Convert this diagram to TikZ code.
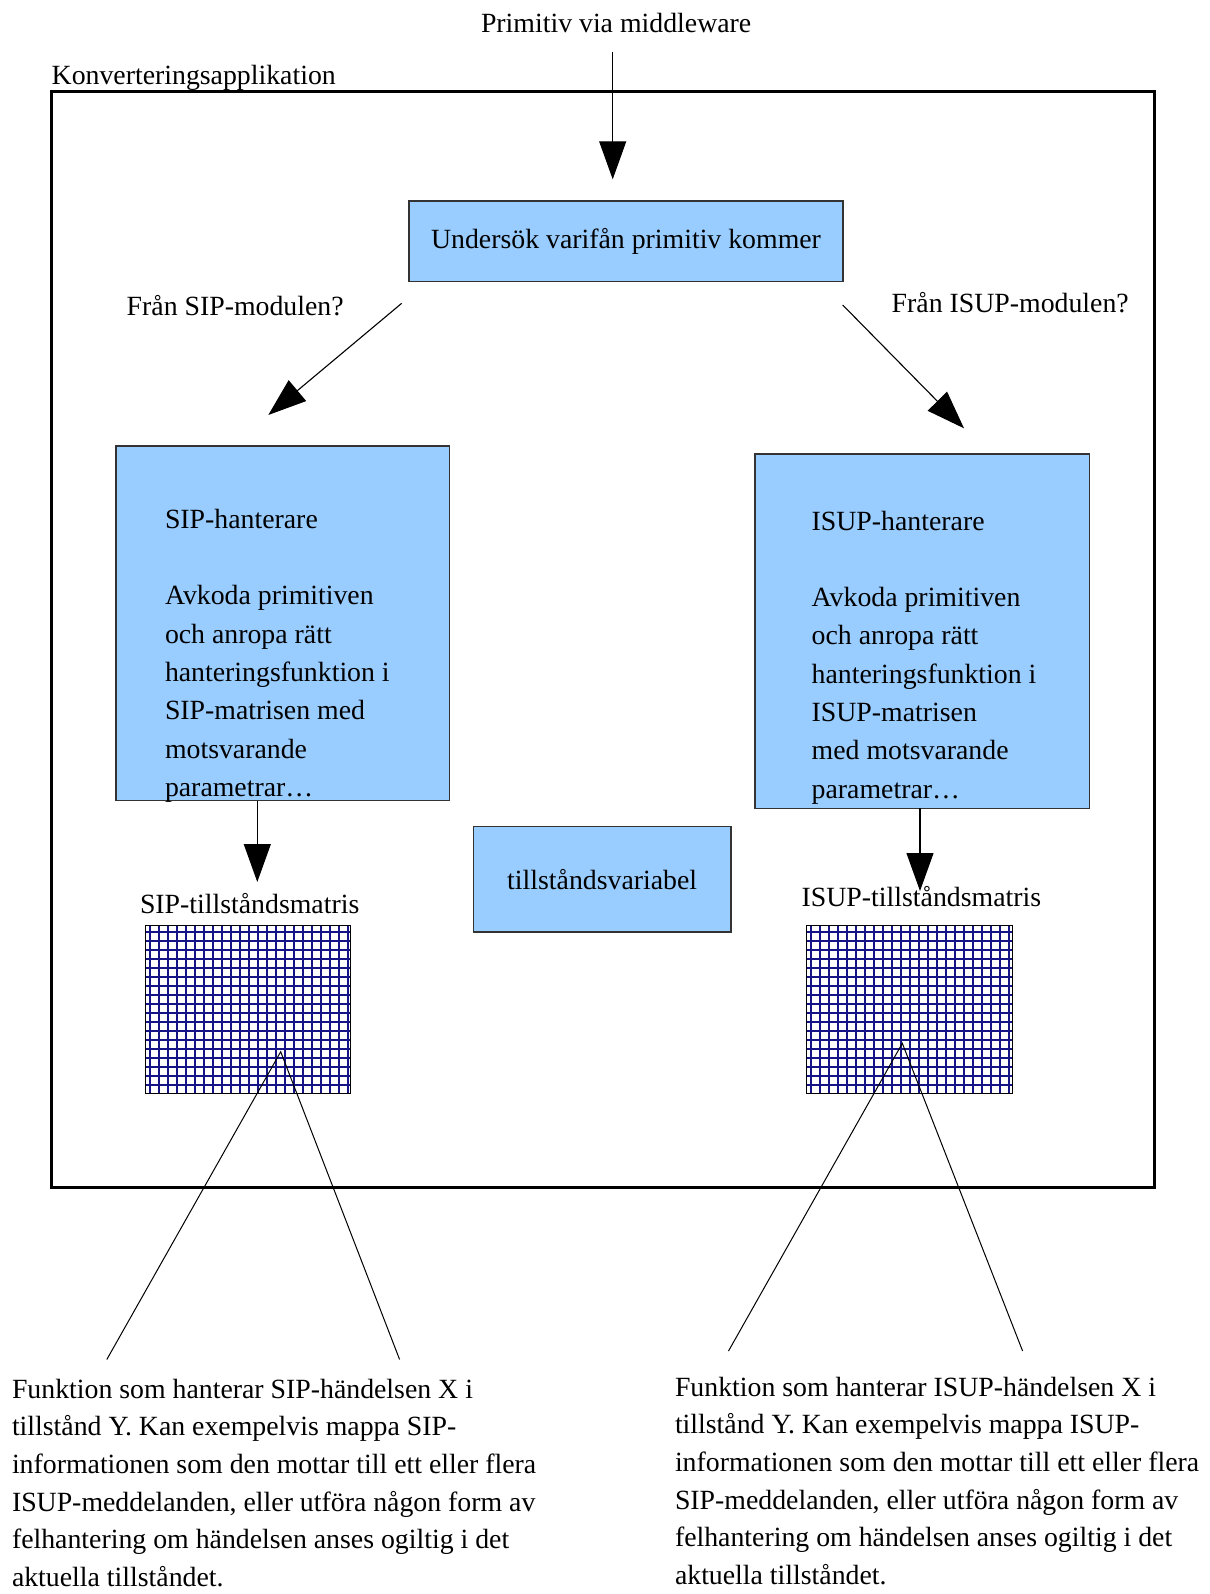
\documentclass[tikz,border=0pt]{standalone}
\usepackage{fontspec}
\setmainfont{Liberation Serif}
\usetikzlibrary{arrows.meta}
\definecolor{boxblue}{RGB}{153,204,255}
\definecolor{gridblue}{RGB}{20,20,135}
% left-aligned block of lines whose reference point is the first baseline
\newcommand{\textlines}[1]{\begin{tabular}[t]{@{}l@{}}#1\end{tabular}}

\begin{document}
\begin{tikzpicture}[x=0.5pt,y=-0.5pt,
  every node/.style={inner sep=0pt, outer sep=0pt, font=\fontsize{13.9}{19.15}\selectfont},
  txt/.style={anchor=base west},
  notefont/.style={font=\fontsize{13.9}{18.85}\selectfont},
  bluebox/.style={draw=black!80, line width=0.7pt, fill=boxblue},
  matbox/.style={draw=black, line width=0.5pt, fill=white},
  arr/.style={line width=0.55pt, -{Triangle[length=19pt,width=13.5pt]}},
  gridline/.style={gridblue, line width=1pt},
  pointer/.style={line width=0.5pt},
  frame/.style={line width=1.5pt}
]
\path[use as bounding box] (0,0) rectangle (1209,1594);

% application frame
\node[txt] (konv) at (51.7,85) {Konverteringsapplikation};
\draw[frame] (51.5,91.5) rectangle (1154,1187.6);

% incoming primitive
\node[txt] (prim) at (481,32.3) {Primitiv via middleware};
\coordinate (inA) at (612.7,51.7);
\coordinate (inB) at (612.7,179.3);
\draw[arr] (inA) -- (inB);

\node[bluebox, minimum width=217.15pt, minimum height=40.35pt] (undersok) at (626,241.35)
  {Undersök varifån primitiv kommer};

% branch labels and arrows
\node[txt] (fransip) at (126.7,315) {Från SIP-modulen?};
\node[txt] (franisup) at (891.7,312.3) {Från ISUP-modulen?};
\coordinate (sipA) at (401.7,303.3);
\coordinate (sipB) at (268.3,415);
\coordinate (isupA) at (842.7,305);
\coordinate (isupB) at (964,428.3);
\draw[arr] (sipA) -- (sipB);
\draw[arr] (isupA) -- (isupB);

% handlers
\node[bluebox, minimum width=166.65pt, minimum height=177.35pt] (siph) at (282.65,623.35) {};
\node[txt] (siptxt) at (165,528.3) {\textlines{SIP-hanterare\\ \\ Avkoda primitiven\\ och anropa rätt\\ hanteringsfunktion i\\ SIP-matrisen med\\ motsvarande\\ parametrar…}};

\node[bluebox, minimum width=167.15pt, minimum height=177.15pt] (isuph) at (922.15,631.15) {};
\node[txt] (isuptxt) at (811.7,530) {\textlines{ISUP-hanterare\\ \\ Avkoda primitiven\\ och anropa rätt\\ hanteringsfunktion i\\ ISUP-matrisen\\ med motsvarande\\ parametrar…}};

% state variable
\node[bluebox, minimum width=128.85pt, minimum height=52.65pt] (tillst) at (602.15,879.35) {tillståndsvariabel};

% arrows down to the state matrices
\coordinate (sipdown) at (257.3,882);
\coordinate (isupdown) at (920,891);
\draw[arr] (siph.south -| sipdown) -- (sipdown);
\draw[arr] (isuph.south -| isupdown) -- (isupdown);

% state matrices
\node[txt] (sipmatlbl) at (140,913.3) {SIP-tillståndsmatris};
\node[txt] (isupmatlbl) at (801.7,906.7) {ISUP-tillståndsmatris};

\node[matbox, minimum width=102.5pt, minimum height=83.8pt] (sipmat) at (247.5,1009.5) {};
\begin{scope}
  \clip (sipmat.south west) rectangle (sipmat.north east);
  \foreach \i in {0,...,23} \draw[gridline] ({150+\i*9},900) -- ++(0,250);
  \foreach \j in {0,...,18} \draw[gridline] (100,{932+\j*9}) -- ++(300,0);
\end{scope}
\draw[line width=0.5pt] (sipmat.south west) rectangle (sipmat.north east);

\node[matbox, minimum width=103pt, minimum height=83.8pt] (isupmat) at (909.7,1009.5) {};
\begin{scope}
  \clip (isupmat.south west) rectangle (isupmat.north east);
  \foreach \i in {0,...,23} \draw[gridline] ({811+\i*9},900) -- ++(0,250);
  \foreach \j in {0,...,18} \draw[gridline] (780,{932+\j*9}) -- ++(300,0);
\end{scope}
\draw[line width=0.5pt] (isupmat.south west) rectangle (isupmat.north east);

% callouts from the matrices
\coordinate (sipapex) at (280.7,1051.7);
\coordinate (sipfootL) at (106.8,1359.5);
\coordinate (sipfootR) at (399.6,1359.5);
\draw[pointer] (sipfootL) -- (sipapex) -- (sipfootR);

\coordinate (isupapex) at (902.3,1043.3);
\coordinate (isupfootL) at (728.5,1351);
\coordinate (isupfootR) at (1022.6,1351);
\draw[pointer] (isupfootL) -- (isupapex) -- (isupfootR);

\node[txt, notefont] (sipfunc) at (12,1398) {\textlines{Funktion som hanterar SIP-händelsen X i\\ tillstånd Y. Kan exempelvis mappa SIP-\\ informationen som den mottar till ett eller flera\\ ISUP-meddelanden, eller utföra någon form av\\ felhantering om händelsen anses ogiltig i det\\ aktuella tillståndet.}};

\node[txt, notefont] (isupfunc) at (675,1396) {\textlines{Funktion som hanterar ISUP-händelsen X i\\ tillstånd Y. Kan exempelvis mappa ISUP-\\ informationen som den mottar till ett eller flera\\ SIP-meddelanden, eller utföra någon form av\\ felhantering om händelsen anses ogiltig i det\\ aktuella tillståndet.}};
\end{tikzpicture}
\end{document}
